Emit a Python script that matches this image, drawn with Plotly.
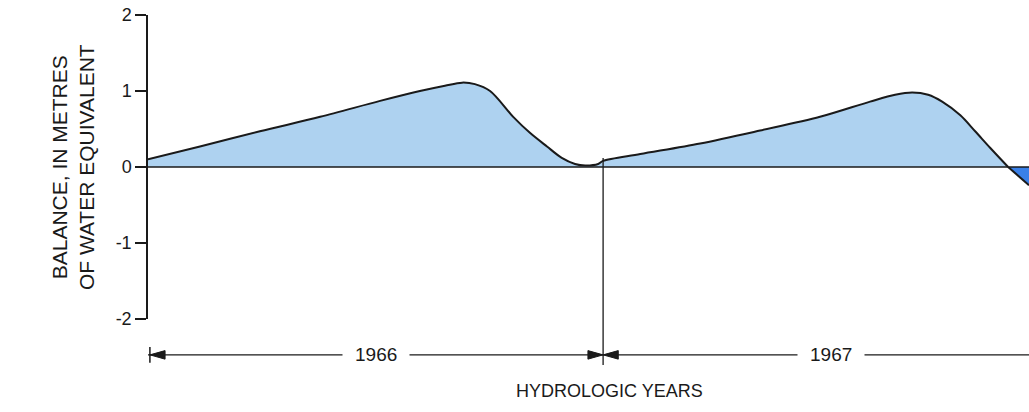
import numpy as np
import plotly.graph_objects as go

# Months since start of hydrologic year 1966 (1 Oct 1965)
months = [0.00, 1.37, 2.95, 4.54, 6.12, 7.17, 7.83, 8.28, 8.62, 9.02, 9.63, 10.07,
          10.52, 10.91, 11.26, 11.53, 11.87, 12.00,
          12.98, 14.56, 16.14, 17.72, 19.04, 19.70, 20.15, 20.57, 20.94, 21.42,
          21.81, 22.21, 22.68, 23.23]
# Balance, metres water equivalent
balance = [0.10, 0.27, 0.47, 0.66, 0.87, 1.00, 1.07, 1.11, 1.09, 1.00, 0.66, 0.45,
           0.27, 0.12, 0.04, 0.02, 0.04, 0.08,
           0.17, 0.31, 0.48, 0.66, 0.86, 0.95, 0.98, 0.95, 0.86, 0.68,
           0.47, 0.25, 0.00, -0.24]
years = ["1966", "1967"]
year_start = [0, 12]
year_len = 12
y_ticks = [-2, -1, 0, 1, 2]
y_tick_text = ["-2", "-1", "0", "1", "2"]

x = np.array(months)
y = np.array(balance)
cross = int(np.where(y == 0)[0][-1])

FONT = "Liberation Sans, Arial, sans-serif"
INK = "#1a1a1a"

fig = go.Figure()
fig.add_trace(go.Scatter(x=x[:cross + 1], y=y[:cross + 1], mode="lines",
                         line=dict(color=INK, width=2, shape="spline", smoothing=0.9),
                         fill="tozeroy", fillcolor="#aed2f0", hoverinfo="skip",
                         showlegend=False))
fig.add_trace(go.Scatter(x=x[cross:], y=y[cross:], mode="lines",
                         line=dict(color=INK, width=2, shape="spline", smoothing=0.9),
                         fill="tozeroy", fillcolor="#3a80e8", hoverinfo="skip",
                         showlegend=False))

ymin, ymax = -2, 2
def ypaper(v):
    return (v - ymin) / (ymax - ymin)

ya = -0.118          # arrow line level (paper)
ah = 0.014           # arrowhead half height (paper)
al = 0.40            # arrowhead length (months)

shapes = []
shapes.append(dict(type="line", xref="paper", yref="y", x0=0, x1=1, y0=0, y1=0,
                   line=dict(color=INK, width=1.5), layer="above"))
shapes.append(dict(type="line", xref="x", yref="paper", x0=year_start[0], x1=x.max() + 1,
                   y0=ya, y1=ya, line=dict(color=INK, width=1.3)))
shapes.append(dict(type="line", xref="x", yref="paper", x0=year_start[0] + 0.05,
                   x1=year_start[0] + 0.05, y0=ya - 0.026, y1=ya + 0.026,
                   line=dict(color=INK, width=1.5)))
xb = year_start[1]
vb = float(np.interp(xb, x, y))
shapes.append(dict(type="line", xref="x", yref="paper", x0=xb, x1=xb,
                   y0=-0.151, y1=ypaper(vb + 0.04), line=dict(color=INK, width=1.3),
                   layer="above"))

def head(tip, direction):
    base = tip + direction * al
    return dict(type="path", xref="x", yref="paper",
                path=f"M {tip} {ya} L {base} {ya + ah} L {base} {ya - ah} Z",
                fillcolor=INK, line=dict(color=INK, width=1))

shapes.append(head(year_start[0] + 0.05, 1))
shapes.append(head(xb, -1))
shapes.append(head(xb, 1))

annotations = []
for yr, s in zip(years, year_start):
    annotations.append(dict(x=s + year_len / 2, y=ya, xref="x", yref="paper",
                            xanchor="center", yanchor="middle",
                            text=yr, showarrow=False, bgcolor="white",
                            borderpad=12, font=dict(family=FONT, size=19, color=INK)))
annotations.append(dict(x=0.524, y=-0.237, xref="paper", yref="paper",
                        xanchor="center", yanchor="middle",
                        text="HYDROLOGIC YEARS", showarrow=False,
                        font=dict(family=FONT, size=18, color=INK)))
annotations.append(dict(x=-0.085, y=0.5, xref="paper", yref="paper",
                        text="BALANCE, IN METRES<br>OF WATER EQUIVALENT",
                        textangle=-90, showarrow=False, xanchor="center", yanchor="middle",
                        font=dict(family=FONT, size=21, color=INK)))

fig.update_layout(
    width=1029, height=412,
    margin=dict(l=148, r=0, t=15, b=93),
    paper_bgcolor="white", plot_bgcolor="white",
    xaxis=dict(visible=False, range=[0, x.max()]),
    yaxis=dict(range=[ymin, ymax], tickvals=y_ticks, ticktext=y_tick_text,
               showgrid=False, zeroline=False, showline=True, linecolor=INK,
               linewidth=1.5, ticks="outside", ticklen=11, tickwidth=1.5,
               tickcolor=INK, tickfont=dict(family=FONT, size=18, color=INK),
               automargin=False),
    shapes=shapes, annotations=annotations,
)

# remove the default page margin so the figure fills the window exactly
fig.write_html("out.html", config={"displayModeBar": False},
               post_script="document.body.style.margin='0';document.body.style.overflow='hidden';")
